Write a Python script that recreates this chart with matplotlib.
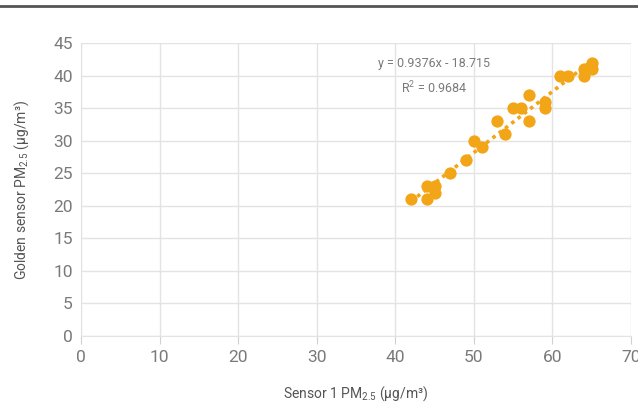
import numpy as np
import matplotlib
matplotlib.use("Agg")
import matplotlib.pyplot as plt
from matplotlib import font_manager

sensor1 = [42, 44, 44, 45, 45, 47, 49, 50, 51, 53, 54, 55, 56, 57, 57, 59, 59, 61, 62, 64, 64, 65, 65]
golden  = [21, 21, 23, 23, 22, 25, 27, 30, 29, 33, 31, 35, 35, 37, 33, 36, 35, 40, 40, 40, 41, 42, 41]
slope = 0.9376
intercept = -18.715
eq_text = "y = 0.9376x - 18.715"
r2_text = "R$^2$ = 0.9684"
xticks = [0, 10, 20, 30, 40, 50, 60, 70]
yticks = [0, 5, 10, 15, 20, 25, 30, 35, 40, 45]

names = {f.name for f in font_manager.fontManager.ttflist}
fam = "Liberation Sans Narrow" if "Liberation Sans Narrow" in names else "Roboto"
plt.rcParams['font.family'] = [fam, 'DejaVu Sans']
plt.rcParams['mathtext.fontset'] = 'custom'
plt.rcParams['mathtext.rm'] = fam
plt.rcParams['mathtext.it'] = fam

grey = "#7a7a7a"
orange = "#F2A516"

fig = plt.figure(figsize=(6.38, 4.08), dpi=100)
ax = fig.add_axes([81/638, 1-336/408, 550/638, 293/408])

ax.scatter(sensor1, golden, s=78, color=orange, zorder=3, linewidths=0)
xs = np.array([min(sensor1), max(sensor1)])
ax.plot(xs, slope*xs + intercept, color=orange, linestyle=(0, (1, 1.2)), linewidth=2.6, zorder=2)

ax.set_xlim(0, 70)
ax.set_ylim(0, 45)
ax.set_xticks(xticks)
ax.set_yticks(yticks)
ax.grid(True, color="#e3e3e3", linewidth=1)
ax.set_axisbelow(True)
for s in ["top", "right"]:
    ax.spines[s].set_visible(False)
for s in ["left", "bottom"]:
    ax.spines[s].set_color("#e3e3e3")
ax.tick_params(axis="x", colors="#d0d0d0", labelcolor=grey, labelsize=12.5, length=6, pad=4)
ax.tick_params(axis="y", length=0, labelcolor=grey, labelsize=12.5, pad=6)

ax.set_xlabel("Sensor 1 PM$_{2.5}$ (µg/m³)", color="#555555", fontsize=10, labelpad=14)
ax.set_ylabel("Golden sensor PM$_{2.5}$ (µg/m³)", color="#555555", fontsize=10, labelpad=16)

ax.text(434/638, 1-63/408, eq_text, transform=fig.transFigure, ha="center", va="center",
        color=grey, fontsize=9)
ax.text(434/638, 1-88/408, r2_text, transform=fig.transFigure, ha="center", va="center",
        color=grey, fontsize=9)

fig.add_artist(plt.Line2D([0, 1], [1-6/408, 1-6/408], color="#555555", linewidth=2,
                          transform=fig.transFigure))

fig.savefig("out.png", dpi=100)
